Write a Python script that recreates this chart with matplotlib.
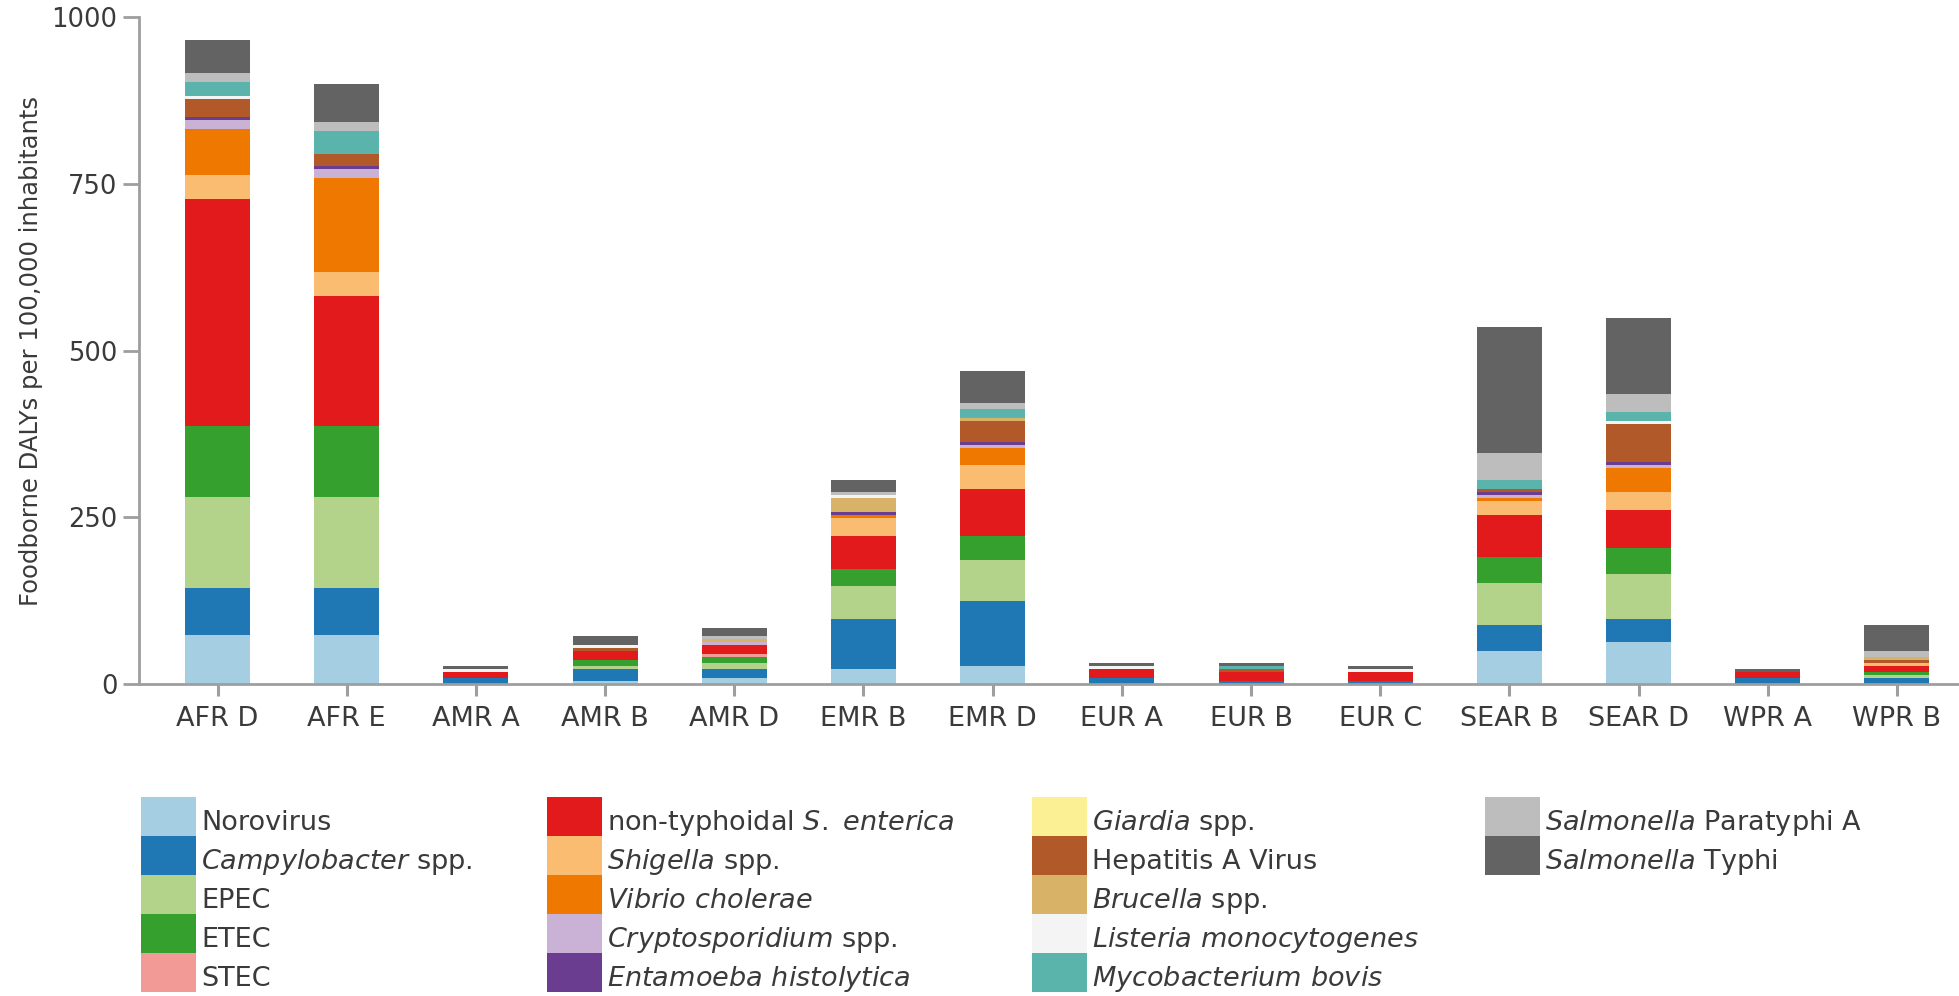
import matplotlib
matplotlib.use('Agg')
import matplotlib.pyplot as plt
from matplotlib.patches import Rectangle
import numpy as np

plt.rcParams['font.family'] = ['DejaVu Sans']

regions = ['AFR D', 'AFR E', 'AMR A', 'AMR B', 'AMR D', 'EMR B', 'EMR D',
           'EUR A', 'EUR B', 'EUR C', 'SEAR B', 'SEAR D', 'WPR A', 'WPR B']

# DALYs per 100,000 (one list per pathogen, same order as regions)
norovirus = [74, 74, 0, 4.5, 9, 22.5, 27, 0, 0, 0, 49, 62.5, 0, 0]
campylobacter = [70, 70, 9, 18, 13.5, 75, 97.5, 9, 4.5, 4.5, 39, 34.5, 9, 9]
epec = [136.5, 136.5, 0, 4.5, 9, 49.5, 61.5, 0, 0, 0, 63, 67.5, 0, 4.5]
etec = [106, 106, 0, 9, 9, 25.5, 36, 0, 0, 0, 39, 39, 0, 4.5]
stec = [0, 0, 0, 0, 4.5, 0, 0, 0, 0, 0, 0, 0, 0, 0]
nts = [340, 195, 9, 13.5, 13.5, 49.5, 70.5, 13.5, 13.5, 13.5, 63, 57, 9, 9]
shigella = [36, 36, 0, 0, 0, 27, 36, 0, 0, 0, 21, 27, 0, 4.5]
vibrio = [70, 141, 0, 0, 0, 4.5, 25.5, 0, 0, 0, 4.5, 36, 0, 0]
crypto = [13, 13, 0, 0, 4.5, 0, 4.5, 0, 0, 0, 4.5, 4.5, 0, 0]
entamoeba = [4.5, 4.5, 0, 0, 0, 4.5, 4.5, 0, 0, 0, 4.5, 4.5, 0, 0]
giardia = [0, 0, 0, 0, 0, 0, 0, 0, 0, 0, 0, 0, 0, 0]
hav = [27, 18, 0, 4.5, 0, 0, 31.5, 0, 4.5, 0, 4.5, 57, 0, 4.5]
brucella = [0, 0, 0, 0, 4.5, 21, 4.5, 0, 0, 0, 0, 0, 0, 4.5]
listeria = [4.5, 0, 4.5, 4.5, 0, 4.5, 0, 4.5, 0, 4.5, 0, 4.5, 0, 0]
mbovis = [21, 35, 0, 0, 0, 0, 13.5, 0, 4.5, 0, 13.5, 13.5, 0, 0]
paratyphi = [13.5, 13, 0, 0, 4.5, 4.5, 9, 0, 0, 0, 40.5, 27, 0, 9]
typhi = [50, 57, 4.5, 13.5, 12, 18, 48, 4.5, 4.5, 4.5, 189, 114, 4.5, 39]

series = [norovirus, campylobacter, epec, etec, stec, nts, shigella, vibrio, crypto,
          entamoeba, giardia, hav, brucella, listeria, mbovis, paratyphi, typhi]

labels = ['Norovirus', r'$\it{Campylobacter}$ spp.', 'EPEC', 'ETEC', 'STEC',
          r'non-typhoidal $\it{S.\ enterica}$', r'$\it{Shigella}$ spp.',
          r'$\it{Vibrio\ cholerae}$', r'$\it{Cryptosporidium}$ spp.',
          r'$\it{Entamoeba\ histolytica}$', r'$\it{Giardia}$ spp.', 'Hepatitis A Virus',
          r'$\it{Brucella}$ spp.', r'$\it{Listeria\ monocytogenes}$',
          r'$\it{Mycobacterium\ bovis}$', r'$\it{Salmonella}$ Paratyphi A',
          r'$\it{Salmonella}$ Typhi']

colors = ['#a6cee3', '#1f78b4', '#b3d38a', '#35a02e', '#f29a96', '#e31a1c', '#f9bc70',
          '#ef7800', '#c9b2d6', '#6a3d91', '#fbf094', '#b15928', '#d8b266', '#f4f4f4',
          '#5ab4ac', '#bdbdbd', '#636363']

W, H = 1959, 996
fig = plt.figure(figsize=(W / 100, H / 100), dpi=100)
ax = fig.add_axes([139 / W, (H - 684) / H, 1 - 139 / W, (684 - 17) / H])

x = np.arange(len(regions))
bottom = np.zeros(len(regions))
for vals, c in zip(series, colors):
    ax.bar(x, vals, width=0.503, bottom=bottom, color=c, edgecolor='none')
    bottom += np.array(vals)

ax.set_xlim(-0.608, 13.48)
ax.set_ylim(0, 1000)
ax.set_yticks([0, 250, 500, 750, 1000])
ax.set_xticks(x)
ax.set_xticklabels(regions)

grey = '#9e9e9e'
for s in ['top', 'right']:
    ax.spines[s].set_visible(False)
for s in ['left', 'bottom']:
    ax.spines[s].set_color(grey)
    ax.spines[s].set_linewidth(2)
ax.tick_params(axis='y', length=11.5, width=2, color=grey, labelsize=18.5,
               labelcolor='#3a3a3a', pad=4)
ax.tick_params(axis='x', length=8.5, width=2.2, color=grey, labelsize=19.5,
               labelcolor='#3a3a3a', pad=7)

fig.text(31 / W, 0.648, 'Foodborne DALYs per 100,000 inhabitants', rotation=90,
         ha='center', va='center', fontsize=17.5, color='#3a3a3a')

# legend, drawn by hand: 4 columns of 5 rows
col_x = [141, 547, 1032, 1485]
row_h = 39
sw_w = 55
for i, (lab, c) in enumerate(zip(labels, colors)):
    col, row = divmod(i, 5)
    top = 797 + row * row_h
    fig.add_artist(Rectangle((col_x[col] / W, (H - top - row_h) / H), sw_w / W, row_h / H,
                             transform=fig.transFigure, facecolor=c, edgecolor='none'))
    fig.text((col_x[col] + sw_w + 5) / W, (H - top - row_h + 6) / H, lab,
             ha='left', va='baseline', fontsize=19.5, color='#3a3a3a')

fig.savefig('out.png', dpi=100)
